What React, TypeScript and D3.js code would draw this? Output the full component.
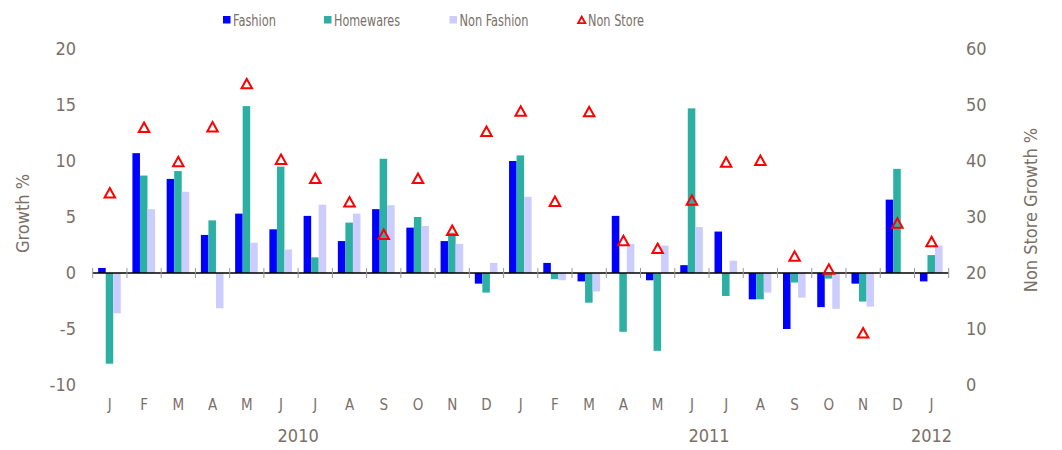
import React from "react";
import * as d3 from "d3";

const months = ["J","F","M","A","M","J","J","A","S","O","N","D","J","F","M","A","M","J","J","A","S","O","N","D","J"];
const fashion = [0.45,10.7,8.4,3.4,5.3,3.9,5.1,2.85,5.7,4.05,2.85,-0.95,10.0,0.9,-0.75,5.1,-0.65,0.7,3.7,-2.35,-5.0,-3.05,-0.95,6.55,-0.75];
const homewares = [-8.1,8.7,9.1,4.7,14.9,9.5,1.4,4.5,10.2,5.0,3.6,-1.75,10.5,-0.55,-2.65,-5.25,-6.95,14.7,-2.05,-2.35,-0.85,-0.5,-2.55,9.3,1.6];
const nonFashion = [-3.6,5.7,7.25,-3.15,2.7,2.1,6.1,5.3,6.05,4.2,2.6,0.9,6.8,-0.65,-1.65,2.6,2.45,4.1,1.1,-1.75,-2.2,-3.2,-3.0,0,2.45];
const nonStore = [34.3,46.0,39.9,46.1,53.8,40.3,36.9,32.7,26.9,36.9,27.6,45.3,48.9,32.8,48.8,25.8,24.4,33.0,39.8,40.1,23.0,20.7,9.3,28.9,25.6];
const leftTicks = [-10,-5,0,5,10,15,20];
const rightTicks = [0,10,20,30,40,50,60];
const years = [{ label: "2010", at: 5.5 }, { label: "2011", at: 17.5 }, { label: "2012", at: 24 }];

const seriesNames = ["Fashion", "Homewares", "Non Fashion"];
const seriesColors = ["#0000FF", "#2DB0A3", "#CCCCFF"];
const seriesData = [fashion, homewares, nonFashion];

const TEXT = "#7b6f68";
const FONT = "'DejaVu Sans Condensed', 'DejaVu Sans', sans-serif";

export default function App() {
  const W = 1062, H = 450;
  const x0 = 92.7, x1 = 948.7;
  const yTop = 49, yBot = 385;
  const x = d3.scaleBand<number>().domain(d3.range(months.length)).range([x0, x1]).padding(0);
  const bw = x.bandwidth();
  const xs = d3.scaleBand<number>().domain([0, 1, 2]).range([bw * 0.16, bw * 0.82]).padding(0);
  const yL = d3.scaleLinear().domain([-10, 20]).range([yBot, yTop]);
  const yR = d3.scaleLinear().domain([0, 60]).range([yBot, yTop]);
  const y0 = yL(0);

  const tri = (cx: number, cy: number, k = 1) => {
    const p = d3.path();
    p.moveTo(cx, cy - 4.6 * k);
    p.lineTo(cx + 5.0 * k, cy + 4.4 * k);
    p.lineTo(cx - 5.0 * k, cy + 4.4 * k);
    p.closePath();
    return p.toString();
  };

  const legend = [
    { name: "Fashion", x: 223, type: "rect", color: seriesColors[0], len: 43 },
    { name: "Homewares", x: 324, type: "rect", color: seriesColors[1], len: 66 },
    { name: "Non Fashion", x: 449.5, type: "rect", color: seriesColors[2], len: 69 },
    { name: "Non Store", x: 578, type: "tri", color: "#FF0000", len: 56 },
  ];

  return (
    <svg width={W} height={H} style={{ position: "absolute", left: 0, top: 0, background: "#fff" }}>
      {legend.map((l) => (
        <g key={l.name}>
          {l.type === "rect" ? (
            <rect x={l.x} y={16} width={7.5} height={7.5} fill={l.color} />
          ) : (
            <path d={tri(l.x + 3.7, 20, 0.72)} fill="none" stroke={l.color} strokeWidth={1.8} />
          )}
          <text x={l.x + 10} y={26} fontFamily={FONT} fontSize={15} fill={TEXT}
            textLength={l.len} lengthAdjust="spacingAndGlyphs">{l.name}</text>
        </g>
      ))}

      {seriesData.map((arr, s) => (
        <g key={s}>
          {arr.map((v, i) => (
            <rect key={i}
              x={(x(i) as number) + (xs(s) as number)}
              y={Math.min(yL(v), y0)}
              width={xs.bandwidth()}
              height={Math.abs(yL(v) - y0)}
              fill={seriesColors[s]} />
          ))}
        </g>
      ))}

      <line x1={x0} x2={x1} y1={y0} y2={y0} stroke="#000" strokeWidth={1.3} />
      {d3.range(months.length + 1).map((i) => {
        const tx = x0 + i * bw;
        return <line key={i} x1={tx} x2={tx} y1={y0 - 5} y2={y0 + 5} stroke="#999" strokeWidth={1} />;
      })}

      {nonStore.map((v, i) => (
        <path key={i} d={tri((x(i) as number) + bw / 2, yR(v), 1.05)} fill="none" stroke="#FF0000" strokeWidth={2} />
      ))}

      {leftTicks.map((t) => (
        <text key={t} x={76} y={yL(t)} dy="0.36em" textAnchor="end" fontFamily={FONT} fontSize={18} fill={TEXT}>{t}</text>
      ))}
      {rightTicks.map((t) => (
        <text key={t} x={966} y={yR(t)} dy="0.36em" textAnchor="start" fontFamily={FONT} fontSize={18} fill={TEXT}>{t}</text>
      ))}

      {months.map((m, i) => (
        <text key={i} x={(x(i) as number) + bw / 2} y={410} textAnchor="middle" fontFamily={FONT} fontSize={15} fill={TEXT}>{m}</text>
      ))}
      {years.map((yv) => (
        <text key={yv.label} x={x0 + (yv.at + 0.5) * bw} y={442} textAnchor="middle" fontFamily={FONT} fontSize={18} fill={TEXT}>{yv.label}</text>
      ))}

      <text transform={`translate(29,213.5) rotate(-90)`} textAnchor="middle" fontFamily={FONT} fontSize={18} fill={TEXT}>Growth %</text>
      <text transform={`translate(1037,210) rotate(-90)`} textAnchor="middle" fontFamily={FONT} fontSize={18} fill={TEXT}>Non Store Growth %</text>
    </svg>
  );
}
